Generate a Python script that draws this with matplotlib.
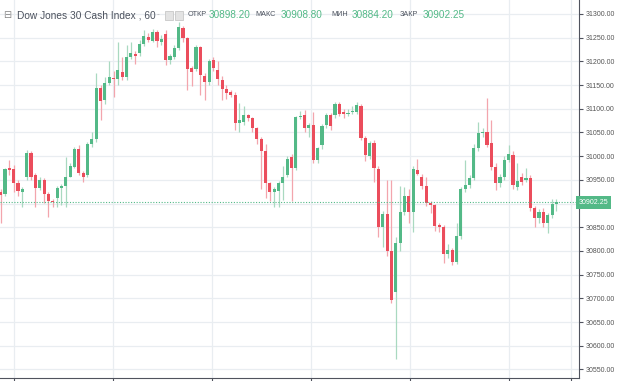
import matplotlib
matplotlib.use('Agg')
import matplotlib.pyplot as plt
from matplotlib.patches import Rectangle
import numpy as np

plt.rcParams['font.family'] = ['Liberation Sans', 'DejaVu Sans']

# hourly candles, Dow Jones 30 Cash Index (60)
opens = [30925, 30920, 30974, 30972, 30944, 30925, 30955, 31006, 30960, 30932,
         30950, 30920, 30906, 30911, 30932, 30936, 30957, 30978, 31015, 30964,
         30960, 31026, 31036, 31143, 31119, 31155, 31165, 31162, 31178, 31166,
         31209, 31216, 31217, 31237, 31251, 31244, 31263, 31240, 31258, 31202,
         31209, 31228, 31270, 31249, 31185, 31183, 31230, 31170, 31157, 31203,
         31182, 31161, 31142, 31135, 31130, 31070, 31072, 31087, 31080, 31059,
         31036, 31011, 30943, 30925, 30927, 30943, 30960, 30999, 30974, 31082,
         31087, 31059, 31066, 30992, 31024, 31066, 31087, 31087, 31111, 31094,
         31090, 31094, 31094, 31106, 31038, 31000, 31028, 30972, 30851, 30878,
         30799, 30714, 30816, 30883, 30916, 30883, 30971, 30957, 30936, 30902,
         30897, 30855, 30851, 30794, 30802, 30777, 30832, 30930, 30939, 30953,
         31017, 31048, 31052, 31027, 30978, 30943, 30957, 30992, 31003, 30934,
         30955, 30950, 30953, 30890, 30869, 30883, 30858, 30876, 30898.20]
highs = [30930, 30976, 30992, 30981, 30950, 30935, 31012, 31010, 30965, 30955,
         30953, 30925, 30910, 30936, 30942, 30999, 30985, 31020, 31024, 30968,
         31030, 31050, 31175, 31150, 31168, 31200, 31180, 31241, 31210, 31235,
         31240, 31222, 31245, 31266, 31260, 31268, 31266, 31255, 31266, 31215,
         31235, 31283, 31275, 31252, 31190, 31235, 31233, 31175, 31205, 31210,
         31200, 31170, 31150, 31140, 31135, 31112, 31105, 31090, 31083, 31062,
         31040, 31025, 30946, 30935, 30948, 30980, 31000, 31005, 31085, 31095,
         31097, 31070, 31094, 31020, 31068, 31092, 31092, 31115, 31115, 31100,
         31100, 31105, 31115, 31110, 31042, 31032, 31035, 30980, 30885, 30950,
         30950, 30830, 30936, 30935, 30930, 30980, 30995, 30962, 30955, 30906,
         30900, 30860, 30855, 30815, 30806, 30860, 30935, 30992, 30960, 31025,
         31073, 31060, 31122, 31076, 30985, 30962, 31000, 31024, 31010, 30985,
         30965, 30975, 30960, 30895, 30888, 30890, 30880, 30910, 30908.80]
lows = [30858, 30915, 30960, 30925, 30915, 30893, 30950, 30950, 30893, 30928,
        30901, 30872, 30893, 30893, 30896, 30893, 30955, 30975, 30960, 30945,
        30955, 31020, 31030, 31076, 31110, 31150, 31125, 31150, 31160, 31160,
        31205, 31195, 31212, 31232, 31240, 31240, 31230, 31235, 31192, 31195,
        31205, 31225, 31240, 31140, 31147, 31180, 31129, 31118, 31150, 31180,
        31150, 31118, 31120, 31125, 31055, 31052, 31065, 31075, 31050, 31025,
        30930, 30911, 30905, 30893, 30893, 30907, 30955, 30905, 30970, 31078,
        31050, 31041, 30985, 30985, 31015, 31060, 31055, 31080, 31085, 31080,
        31085, 31088, 31090, 31035, 30990, 30995, 30945, 30830, 30809, 30790,
        30690, 30571, 30800, 30875, 30860, 30841, 30960, 30930, 30895, 30880,
        30843, 30840, 30774, 30785, 30770, 30772, 30825, 30925, 30932, 30950,
        31010, 31040, 31020, 30970, 30929, 30935, 30950, 30988, 30930, 30928,
        30940, 30945, 30885, 30851, 30860, 30850, 30837, 30870, 30884.20]
closes = [30918, 30972, 30970, 30944, 30927, 30930, 31007, 30957, 30932, 30950,
          30920, 30906, 30903, 30932, 30937, 30956, 30979, 31015, 30964, 30956,
          31026, 31036, 31143, 31117, 31155, 31166, 31162, 31182, 31166, 31209,
          31218, 31211, 31237, 31254, 31245, 31263, 31242, 31248, 31202, 31211,
          31228, 31272, 31249, 31183, 31178, 31230, 31171, 31157, 31200, 31185,
          31162, 31141, 31134, 31130, 31071, 31076, 31087, 31080, 31059, 31036,
          31011, 30943, 30925, 30930, 30944, 30957, 30993, 30974, 31082, 31085,
          31059, 31066, 30992, 31017, 31064, 31087, 31064, 31111, 31090, 31089,
          31092, 31096, 31108, 31038, 31003, 31028, 30974, 30851, 30878, 30799,
          30697, 30816, 30883, 30916, 30883, 30973, 30962, 30937, 30901, 30896,
          30853, 30850, 30794, 30802, 30777, 30832, 30930, 30939, 30953, 31017,
          31048, 31052, 31024, 30978, 30943, 30957, 30992, 31005, 30939, 30948,
          30946, 30953, 30890, 30869, 30883, 30858, 30876, 30899, 30902.25]

price_ticks = [30550, 30600, 30650, 30700, 30750, 30800, 30850, 30900,
               30950, 31000, 31050, 31100, 31150, 31200, 31250, 31300]

title = 'Dow Jones 30 Cash Index , 60'
ohlc_names = ['ОТКР', 'МАКС', 'МИН', 'ЗАКР']

green = '#53b987'
red = '#eb4d5c'
grid_col = '#e9edf1'
axis_col = '#50535e'

o = np.array(opens)
h = np.array(highs)
l = np.array(lows)
c = np.array(closes)
idx = np.arange(len(o))
up = c >= o

fig = plt.figure(figsize=(6.2, 3.81), dpi=100)
ax = fig.add_axes([0, 0.008, 579 / 620, 0.992])

# wicks then bodies
wick_cols = np.where(up, '#a9d9c0', '#f3a5ad')
ax.vlines(idx, l, h, colors=wick_cols, lw=0.9, zorder=2)
body_h = np.maximum(np.abs(c - o), 1.5)
ax.bar(idx, body_h, bottom=np.minimum(o, c), width=0.72,
       color=np.where(up, green, red), lw=0, zorder=3)

# last price line + label
ax.axhline(c[-1], color=green, lw=0.8, ls=(0, (1, 1.5)), zorder=4)
ax.text(1.0, c[-1], f'{c[-1]:.2f}', transform=ax.get_yaxis_transform(),
        ha='left', va='center', fontsize=5, color='white', clip_on=False,
        bbox=dict(boxstyle='square,pad=0.4', fc=green, ec='none'))

ax.set_xlim(-0.15, 133.2)
ax.set_ylim(30532, 31329.5)

# day separators
ax.set_xticks([3.1, 25.9, 48.7, 71.5, 94.3, 117.1, 131.3])
ax.set_xticklabels([])
ax.tick_params(axis='x', length=3, color=axis_col, width=0.8)
ax.grid(axis='x', color=grid_col, lw=0.9)

ax.yaxis.tick_right()
ax.set_yticks(price_ticks)
ax.set_yticklabels(['' if v == 30900 else f'{v:.2f}' for v in price_ticks])
ax.tick_params(axis='y', length=3, pad=2, labelsize=5, labelcolor='#555555',
               color=axis_col, width=0.8)
ax.grid(axis='y', color=grid_col, lw=0.9)
ax.set_axisbelow(True)

for side in ['top', 'left']:
    ax.spines[side].set_visible(False)
for side in ['right', 'bottom']:
    ax.spines[side].set_color(axis_col)
    ax.spines[side].set_linewidth(0.8)

# header
ty = 1 - 15 / 381
fig.text(3 / 620, ty, '⊟', fontsize=7, color='#888888', va='center')
fig.text(17 / 620, ty, title, fontsize=7.3, color='#4c525e', va='center')
fig.text(157 / 620, ty, '-', fontsize=6, color='#aaaaaa', va='center')
for bx in [165, 175]:
    fig.patches.append(Rectangle((bx / 620, 1 - 20 / 381), 8 / 620, 9 / 381,
                                 transform=fig.transFigure, fc='#e3e3e3',
                                 ec='#c8c8c8', lw=0.6))
name_x = [188, 255, 331, 400]
val_x = [209, 281, 352, 423]
ohlc_vals = [opens[-1], highs[-1], lows[-1], closes[-1]]
for nm, v, nx, vx in zip(ohlc_names, ohlc_vals, name_x, val_x):
    fig.text(nx / 620, ty, nm, fontsize=5.2, color='#4c525e', va='center')
    fig.text(vx / 620, ty, f'{v:.2f}', fontsize=7.2, color=green, va='center')

fig.savefig('out.png', dpi=100, facecolor='white')
